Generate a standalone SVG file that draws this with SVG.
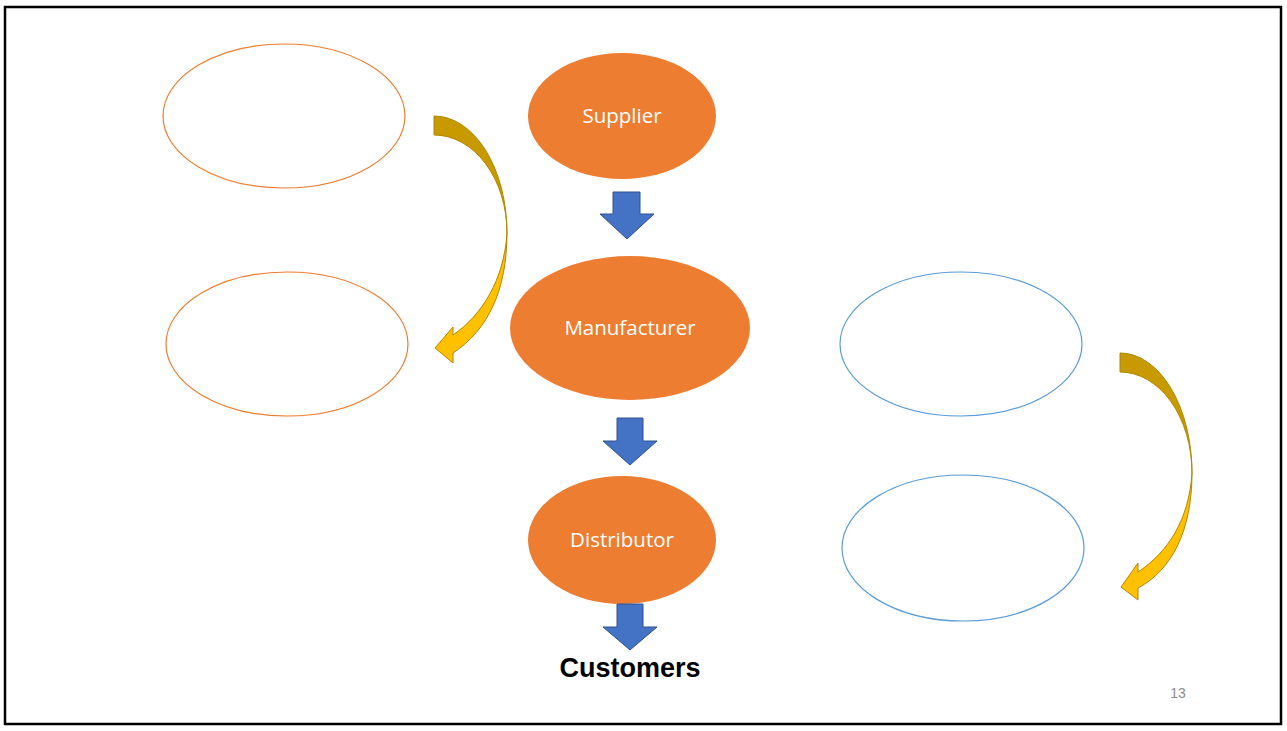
<svg xmlns="http://www.w3.org/2000/svg" width="1287" height="731" viewBox="0 0 1287 731">
<style>
.ol{fill:#fff;stroke:#ED7D31;stroke-width:1.2}
.bl{fill:#fff;stroke:#5B9BD5;stroke-width:1.2}
.fo{fill:#ED7D31}
.lbl{font-family:"Open Sans","Liberation Sans",sans-serif;font-size:20.5px;fill:#fff;text-anchor:middle}
.ba{fill:#4472C4;stroke:#2F528F;stroke-width:1}
.gd{fill:#C89A00;stroke:#B08800;stroke-width:1}
.gl{fill:#FFC000;stroke:#B08800;stroke-width:1}
</style>
<rect x="0" y="0" width="1287" height="731" fill="#fff"/>
<rect x="5" y="7" width="1276" height="717" fill="none" stroke="#000" stroke-width="2.5"/>
<g id="left-top"><ellipse class="ol" cx="284" cy="116" rx="121" ry="72"/></g>
<g id="left-mid"><ellipse class="ol" cx="287" cy="344" rx="121" ry="72"/></g>
<g id="right-mid"><ellipse class="bl" cx="961" cy="344" rx="121" ry="72"/></g>
<g id="right-bottom"><ellipse class="bl" cx="963" cy="548" rx="121" ry="73"/></g>
<g id="supplier"><ellipse class="fo" cx="622" cy="116" rx="94" ry="63"/><text class="lbl" x="622" y="123">Supplier</text></g>
<g id="manufacturer"><ellipse class="fo" cx="630" cy="328" rx="120" ry="72"/><text class="lbl" x="630" y="335">Manufacturer</text></g>
<g id="distributor"><ellipse class="fo" cx="622" cy="540" rx="94" ry="64"/><text class="lbl" x="622" y="547">Distributor</text></g>
<g id="customers"><text x="630" y="677" font-family="Liberation Sans,Arial,sans-serif" font-weight="bold" font-size="27" text-anchor="middle" fill="#000">Customers</text></g>
<g id="connectors">
<path class="ba" d="M613,192 L640,192 L640,214 L654,214 L627,239 L600,214 L613,214 Z"/>
<path class="ba" d="M617,418 L643,418 L643,441 L657,441 L630,465 L603,441 L617,441 Z"/>
<path class="ba" d="M617,604 L643,604 L643,627 L657,627 L630,650 L603,627 L617,627 Z"/>
<path class="gd" d="M434,116 A73,117 0 0 1 507,233 A73,98 0 0 0 434,135 Z"/>
<path class="gl" d="M507,233 C507,290 488,330 453,353 L453,363 L435,348 L453,327 L453,335 C482,315 504,280 507,233 Z"/>
<path class="gd" d="M1120,353 A72,120 0 0 1 1192,473 A72,101 0 0 0 1120,372 Z"/>
<path class="gl" d="M1192,473 C1192,530 1172,570 1138,588 L1138,600 L1121,587 L1138,563 L1138,572 C1168,552 1189,520 1192,473 Z"/>
</g>
<text x="1178" y="698" font-family="Liberation Sans,Arial,sans-serif" font-size="14" fill="#8a8a8a" text-anchor="middle">13</text>
</svg>
